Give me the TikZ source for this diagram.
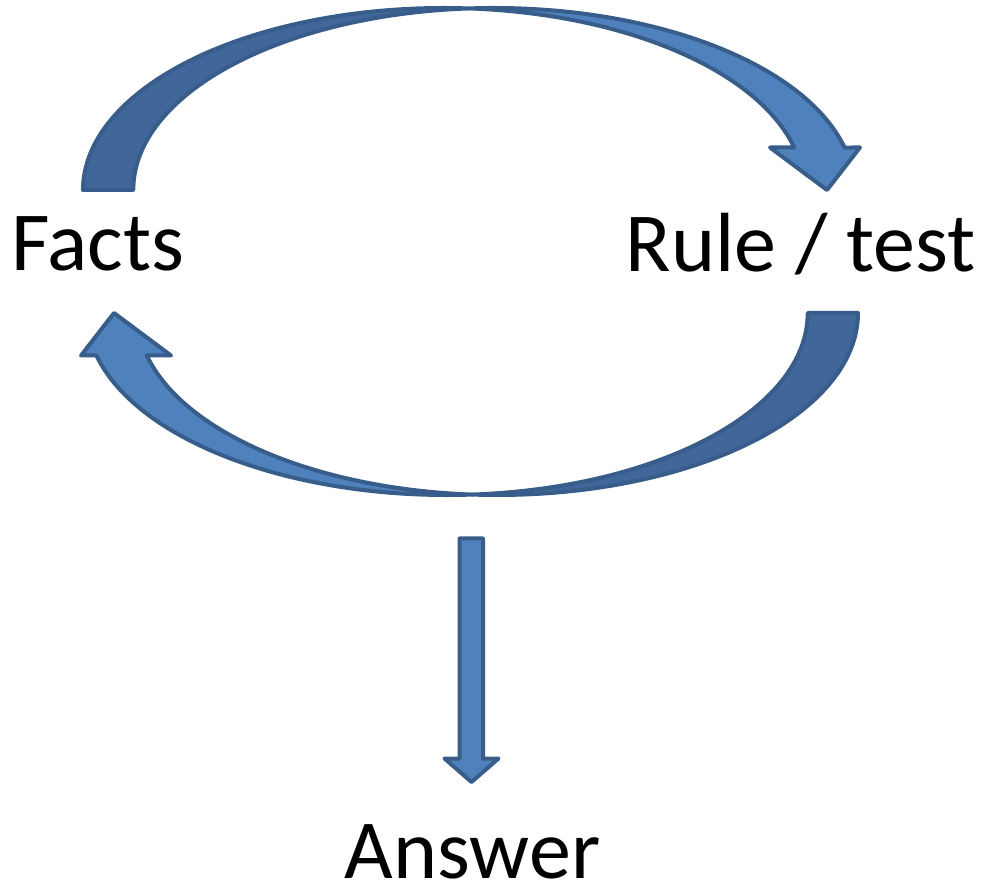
\documentclass[tikz,border=0pt]{standalone}
\usepackage{fontspec}
\setmainfont{Carlito}
\usetikzlibrary{positioning}
\definecolor{arrowfill}{HTML}{4F81BD}
\definecolor{arrowback}{HTML}{41679A}
\definecolor{arrowline}{HTML}{385D8A}
\tikzset{
  backface/.style={fill=arrowback, draw=arrowline, line width=4pt, line join=round},
  frontface/.style={fill=arrowfill, draw=arrowline, line width=4pt, line join=round},
  bigword/.style={inner sep=0pt, text depth=0pt, font=\fontsize{84}{100}\selectfont},
  loopradii/.style={x radius=360.6pt, y radius=182pt}
}
% one curved block arrow: dark back band, light front band with head
\newcommand{\looparrow}{%
  \filldraw[backface] (83,697) arc[start angle=180, end angle=86, loopradii]
    arc[start angle=94, end angle=180, loopradii] -- cycle;
  \filldraw[frontface] (468.75,878.56) arc[start angle=94, end angle=13.5, loopradii]
    -- (860,739.5) -- (827,697) -- (770,739.5) -- (794.2,739.5)
    arc[start angle=13.5, end angle=86, loopradii] -- cycle;
}

\begin{document}
\begin{tikzpicture}[x=1pt,y=1pt]
  \useasboundingbox (0,0) rectangle (985,887);
  \looparrow
  \begin{scope}[rotate around={180:(470.5,635.5)}]
    \looparrow
  \end{scope}
  \node[bigword, anchor=base west] (facts) at (11,616) {Facts};
  \node[bigword, anchor=base east] (rule) at (976,615) {Rule / test};
  \node[bigword, anchor=base] (answer) at (472.5,9) {Answer};
  \filldraw[frontface] (459.5,348.5) -- (483,348.5) -- (483,128.5) -- (498.5,128.5)
    -- (471.5,105) -- (444.5,128.5) -- (459.5,128.5) -- cycle;
\end{tikzpicture}
\end{document}
